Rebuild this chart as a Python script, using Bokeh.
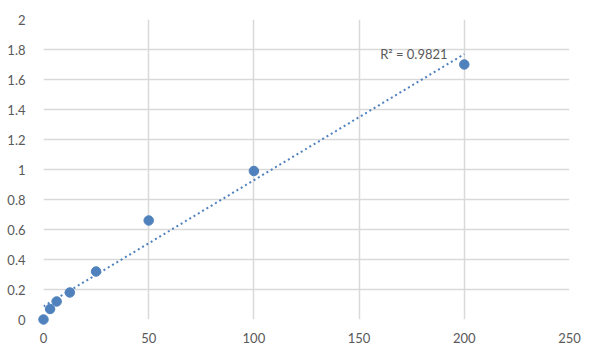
import numpy as np
from bokeh.plotting import figure
from bokeh.models import Range1d, FixedTicker, ColumnDataSource, Label
from bokeh.embed import file_html
from bokeh.resources import INLINE

conc = [0, 3.125, 6.25, 12.5, 25, 50, 100, 200]
od = [0.0, 0.07, 0.12, 0.18, 0.32, 0.66, 0.99, 1.70]
x_ticks = [0, 50, 100, 150, 200, 250]
y_ticks = [0, 0.2, 0.4, 0.6, 0.8, 1.0, 1.2, 1.4, 1.6, 1.8, 2.0]
y_tick_labels = ["0", "0.2", "0.4", "0.6", "0.8", "1", "1.2", "1.4", "1.6", "1.8", "2"]
r2_text = "R\u00b2 = 0.9821"

FONT = "Lato"
GRAY = "#595959"
BLUE = "#4f81bd"

p = figure(width=584, height=345, output_backend="svg", toolbar_location=None,
           x_range=Range1d(0, 250), y_range=Range1d(0, 2),
           min_border_left=43, min_border_right=15, min_border_top=19, min_border_bottom=24)
p.outline_line_color = None
p.background_fill_color = "white"
p.border_fill_color = "white"

for ax in (p.xaxis[0], p.yaxis[0]):
    ax.axis_line_color = None
    ax.major_tick_line_color = None
    ax.minor_tick_line_color = None
    ax.major_label_text_font = FONT
    ax.major_label_text_font_size = "13px"
    ax.major_label_text_color = GRAY
p.xaxis.ticker = FixedTicker(ticks=x_ticks)
p.yaxis.ticker = FixedTicker(ticks=y_ticks)
p.yaxis.major_label_overrides = {t: l for t, l in zip(y_ticks, y_tick_labels)}
p.xaxis.major_label_standoff = 7
p.yaxis.major_label_standoff = 12

p.xgrid.ticker = FixedTicker(ticks=x_ticks)
p.ygrid.ticker = FixedTicker(ticks=y_ticks)
for g in (p.xgrid[0], p.ygrid[0]):
    g.grid_line_color = "#d9d9d9"
    g.grid_line_width = 1.5

# linear trendline fitted to the data
slope, intercept = np.polyfit(conc, od, 1)
tx = [min(conc), max(conc)]
ty = [intercept + slope * v for v in tx]
p.line(tx, ty, line_color=BLUE, line_width=2, line_dash="2 3")

src = ColumnDataSource(dict(x=conc, y=od))
p.scatter("x", "y", source=src, size=9.5, fill_color=BLUE, line_color=BLUE, level="overlay")

p.add_layout(Label(x=160, y=1.72, text=r2_text, text_font=FONT, text_font_size="13px",
                   text_color=GRAY))

open("out.html", "w").write(file_html(p, INLINE))
